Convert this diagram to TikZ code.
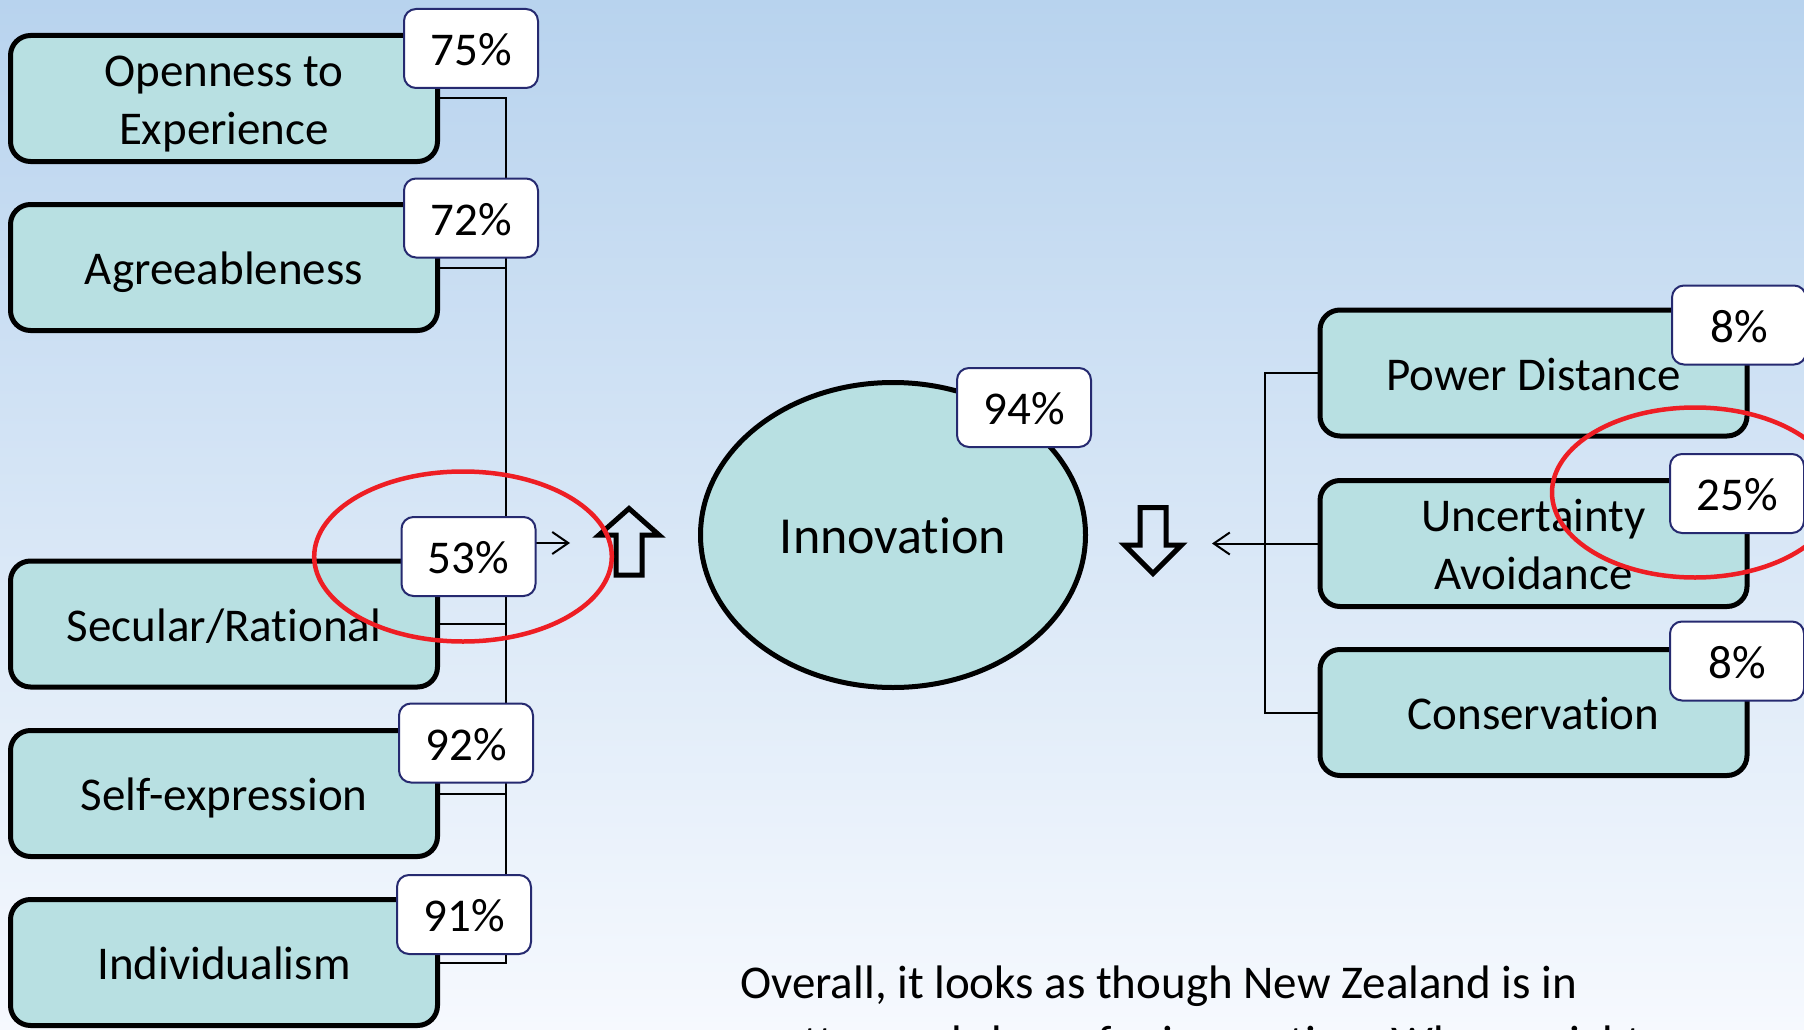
\documentclass[tikz,border=0pt]{standalone}
\usepackage{fontspec}
\setmainfont{Carlito}[Ligatures=NoCommon]
\usetikzlibrary{shapes.geometric,arrows.meta}
\definecolor{bgtop}{RGB}{184,211,238}
\definecolor{bgbot}{RGB}{246,249,254}
\definecolor{boxfill}{RGB}{184,224,226}
\definecolor{lblborder}{RGB}{38,42,112}
\definecolor{ringred}{RGB}{238,30,36}
\newcommand\BLine[1]{\smash{#1}\rule{0pt}{34pt}}
\begin{document}
\begin{tikzpicture}[x=1pt,y=-1pt,
  factor/.style={draw=black,line width=5pt,rounded corners=20pt,fill=boxfill,
    minimum width=427pt,minimum height=126pt,inner sep=0pt,align=center,
    font=\fontsize{47}{58}\selectfont},
  pct/.style={draw=lblborder,line width=2pt,rounded corners=12pt,fill=white,
    minimum width=134pt,minimum height=79pt,inner sep=0pt,
    font=\fontsize{47}{58}\selectfont},
  link/.style={draw=black,line width=2pt,line cap=rect},
  barb/.style={-{Straight Barb[length=16pt,width=22pt]}},
  ring/.style={draw=ringred,line width=4.5pt},
  blockarrow/.style={draw=black,line width=5pt,line join=miter},
]
\useasboundingbox (0,0) rectangle (1804,1030);
\shade[top color=bgtop,bottom color=bgbot] (0,0) rectangle (1804,1030);

% factor boxes
\node[factor] (open) at (224,98.5) {\BLine{Openness to}\\\BLine{Experience}};
\node[factor] (agree) at (224,267.5) {\BLine{Agreeableness}};
\node[factor] (secular) at (224,624) {\BLine{Secular/Rational}};
\node[factor] (self) at (224,793.5) {\BLine{Self-expression}};
\node[factor] (indiv) at (224,962.5) {\BLine{Individualism}};
\node[factor] (power) at (1533.5,373) {\BLine{Power Distance}};
\node[factor] (uncert) at (1533.5,543.5) {\BLine{Uncertainty}\\\BLine{Avoidance}};
\node[factor] (conserv) at (1533.5,712.5) {\BLine{Conservation}};

% innovation
\node[draw=black,line width=5pt,fill=boxfill,ellipse,minimum width=385pt,
  minimum height=305pt,inner sep=0pt,font=\fontsize{52}{62}\selectfont]
  (innov) at (893,535) {\smash{Innovation}\rule{0pt}{36pt}};

% left connectors
\coordinate (lbus) at (506,0);
\foreach \n in {open,agree,secular,self,indiv}
  \draw[link] (\n.east) -- (\n.east -| lbus);
\draw[link] (open.east -| lbus) -- (indiv.east -| lbus);
\coordinate (lout) at (506,543);
\coordinate (lhead) at (570,543);
\draw[link,barb] (lout) -- (lhead);

% right connectors
\coordinate (rbus) at (1265,0);
\foreach \n in {power,uncert,conserv}
  \draw[link] (\n.west) -- (\n.west -| rbus);
\draw[link] (power.west -| rbus) -- (conserv.west -| rbus);
\coordinate (rhead) at (1212,543.5);
\draw[link,barb] (uncert.west -| rbus) -- (rhead);

% percentage labels
\node[pct] (p75) at (471,48.5) {\BLine{75\%}};
\node[pct] (p72) at (471,218) {\BLine{72\%}};
\node[pct] (p53) at (468.5,556.5) {\BLine{53\%}};
\node[pct] (p92) at (466,743) {\BLine{92\%}};
\node[pct] (p91) at (464,914.5) {\BLine{91\%}};
\node[pct] (p94) at (1024,407.5) {\BLine{94\%}};
\node[pct] (p8a) at (1739,325) {\BLine{8\%}};
\node[pct] (p25) at (1737,493.5) {\BLine{25\%}};
\node[pct] (p8b) at (1737,661) {\BLine{8\%}};

% block arrows
\draw[blockarrow] (629,508.5) -- (659,535) -- (642,535) -- (642,575) -- (616,575)
  -- (616,535) -- (599,535) -- cycle;
\draw[blockarrow] (1140,507.5) -- (1166,507.5) -- (1166,545) -- (1181.5,545)
  -- (1153,573.5) -- (1124.5,545) -- (1140,545) -- cycle;

% red highlight rings
\draw[ring] (463,556.5) ellipse [x radius=148.8pt, y radius=85pt];
\draw[ring] (1695,492.5) ellipse [x radius=143pt, y radius=85pt];

% summary text
\node[anchor=north west,inner sep=0pt,align=left,font=\fontsize{47}{60}\selectfont]
  (summary) at (740,964)
  {\BLine{Overall, it looks as though New Zealand is in}\\\BLine{pretty good shape for innovation. Where might}};
\end{tikzpicture}
\end{document}
